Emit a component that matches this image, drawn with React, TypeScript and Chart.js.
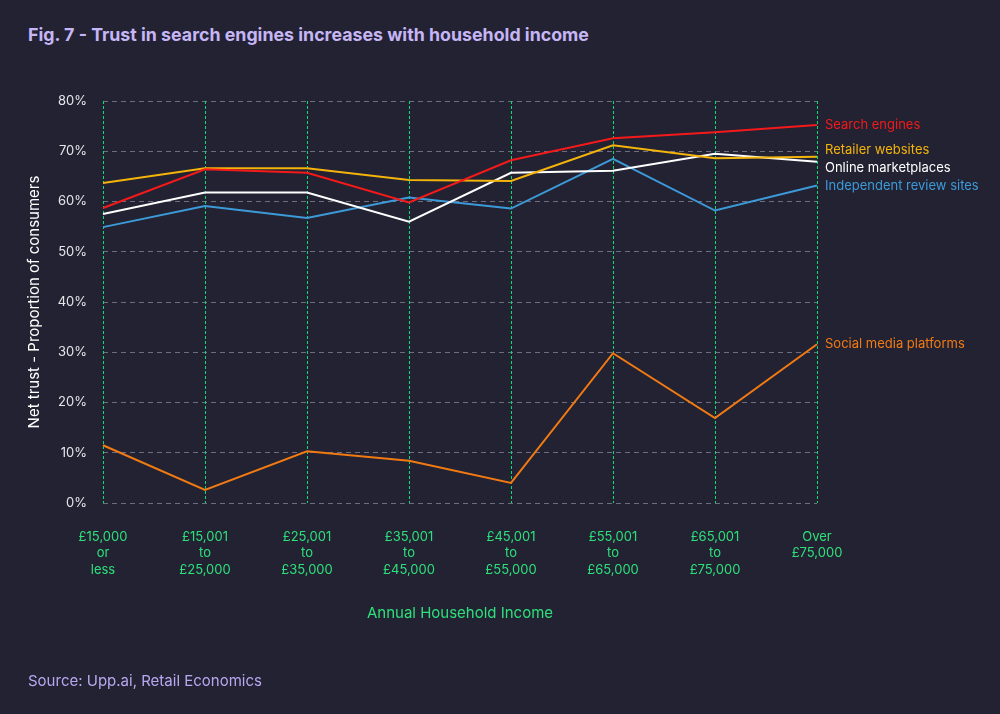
import React, { useEffect, useRef } from "react";
import { Chart, registerables } from "chart.js";

Chart.register(...registerables);

const categories: string[][] = [
  ["£15,000", "or", "less"],
  ["£15,001", "to", "£25,000"],
  ["£25,001", "to", "£35,000"],
  ["£35,001", "to", "£45,000"],
  ["£45,001", "to", "£55,000"],
  ["£55,001", "to", "£65,000"],
  ["£65,001", "to", "£75,000"],
  ["Over", "£75,000"],
];

const searchEngines = [58.7, 66.4, 65.7, 59.8, 68.2, 72.6, 73.8, 75.2];
const retailerWebsites = [63.7, 66.6, 66.6, 64.3, 64.1, 71.2, 68.6, 68.9];
const onlineMarketplaces = [57.5, 61.8, 61.8, 56.0, 65.7, 66.1, 69.5, 67.9];
const independentReview = [54.9, 59.1, 56.7, 60.8, 58.6, 68.5, 58.2, 63.2];
const socialMedia = [11.5, 2.6, 10.3, 8.4, 4.0, 29.8, 16.9, 31.6];

const seriesNames = [
  "Search engines",
  "Retailer websites",
  "Online marketplaces",
  "Independent review sites",
  "Social media platforms",
];
const seriesColors = ["#f41a1a", "#f4b40a", "#ffffff", "#3d9ad8", "#f27a12"];
const seriesData = [searchEngines, retailerWebsites, onlineMarketplaces, independentReview, socialMedia];

const yTicks = [0, 10, 20, 30, 40, 50, 60, 70, 80];

const FONT = "Inter, 'Noto Sans', sans-serif";
const BG = "#222233";

const verticalGrid = {
  id: "verticalGrid",
  beforeDatasetsDraw(chart: any) {
    const ctx = chart.ctx;
    const xs = chart.scales.x;
    const { top, bottom } = chart.chartArea;
    ctx.save();
    ctx.strokeStyle = "#00e070";
    ctx.lineWidth = 1;
    ctx.setLineDash([3, 2]);
    for (let i = 0; i < chart.data.labels.length; i++) {
      const x = Math.round(xs.getPixelForTick(i)) + 0.5;
      ctx.beginPath();
      ctx.moveTo(x, top);
      ctx.lineTo(x, bottom);
      ctx.stroke();
    }
    ctx.restore();
  },
};

const endLabels = {
  id: "endLabels",
  afterDatasetsDraw(chart: any) {
    const ctx = chart.ctx;
    const items: { y: number; x: number; text: string; color: string }[] = [];
    chart.data.datasets.forEach((ds: any, i: number) => {
      const meta = chart.getDatasetMeta(i);
      const pt = meta.data[meta.data.length - 1];
      items.push({ x: pt.x, y: pt.y, text: ds.label, color: ds.borderColor });
    });
    items.sort((a, b) => a.y - b.y);
    const gap = 18;
    for (let k = 0; k < 30; k++) {
      for (let i = 0; i < items.length - 1; i++) {
        const d = items[i + 1].y - items[i].y;
        if (d < gap) {
          const h = (gap - d) / 2;
          items[i].y -= h;
          items[i + 1].y += h;
        }
      }
    }
    ctx.save();
    ctx.font = `13px ${FONT}`;
    ctx.textBaseline = "middle";
    ctx.textAlign = "left";
    items.forEach((it) => {
      ctx.fillStyle = it.color;
      ctx.fillText(it.text, it.x + 8, it.y);
    });
    ctx.restore();
  },
};

export default function App() {
  const ref = useRef<HTMLCanvasElement | null>(null);
  useEffect(() => {
    if (!ref.current) return;
    const chart = new Chart(ref.current, {
      type: "line",
      data: {
        labels: categories,
        datasets: seriesNames.map((name, i) => ({
          label: name,
          data: seriesData[i],
          borderColor: seriesColors[i],
          backgroundColor: seriesColors[i],
          borderWidth: 2,
          pointRadius: 0,
          tension: 0,
        })),
      },
      options: {
        animation: false,
        responsive: false,
        maintainAspectRatio: false,
        layout: { padding: { left: 0, right: 183, top: 101, bottom: 0 } },
        plugins: { legend: { display: false }, tooltip: { enabled: false }, title: { display: false } },
        scales: {
          x: {
            offset: false,
            afterFit: (s: any) => {
              s.height = 211;
            },
            grid: { display: false, drawTicks: false },
            border: { display: false },
            ticks: {
              color: "#2ee07a",
              font: { family: FONT, size: 13, lineHeight: 1.25 },
              padding: 26,
              maxRotation: 0,
              autoSkip: false,
            },
            title: {
              display: true,
              text: "Annual Household Income",
              color: "#2ee07a",
              font: { family: FONT, size: 15 },
              padding: { top: 0, bottom: 92 },
            },
          },
          y: {
            min: 0,
            max: 80,
            afterFit: (s: any) => {
              s.width = 103;
            },
            afterBuildTicks: (s: any) => {
              s.ticks = yTicks.map((v) => ({ value: v }));
            },
            grid: { color: "#6e6e80", lineWidth: 1, drawTicks: false },
            border: { display: false, dash: [5, 4] },
            ticks: {
              color: "#e6e6ea",
              font: { family: FONT, size: 13 },
              padding: 16,
              callback: (v: any) => `${v}%`,
            },
            title: {
              display: true,
              text: "Net trust - Proportion of consumers",
              color: "#ffffff",
              font: { family: FONT, size: 15 },
              padding: { top: 25, bottom: 0 },
            },
          },
        },
      },
      plugins: [verticalGrid, endLabels],
    } as any);
    return () => chart.destroy();
  }, []);

  return (
    <div style={{ position: "absolute", left: 0, top: 0, width: 1000, height: 714, background: BG, overflow: "hidden" }}>
      <div
        style={{
          position: "absolute",
          left: 28,
          top: 24,
          fontFamily: FONT,
          fontWeight: 700,
          fontSize: 17.8,
          color: "#c6b6f6",
          whiteSpace: "nowrap",
        }}
      >
        Fig. 7 - Trust in search engines increases with household income
      </div>
      <canvas ref={ref} width={1000} height={714} style={{ position: "absolute", left: 0, top: 0 }} />
      <div
        style={{
          position: "absolute",
          left: 28,
          top: 671,
          fontFamily: FONT,
          fontSize: 15,
          color: "#b9a8f0",
          whiteSpace: "nowrap",
        }}
      >
        Source: Upp.ai, Retail Economics
      </div>
    </div>
  );
}
